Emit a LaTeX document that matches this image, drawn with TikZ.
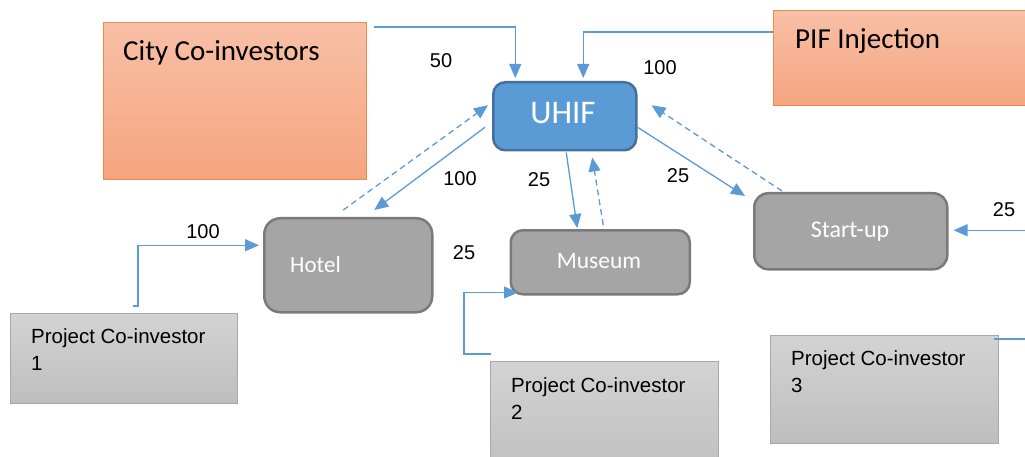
\documentclass[tikz,border=0pt]{standalone}
\usepackage{fontspec}
\setmainfont{Carlito}
\newfontfamily\arialf{Liberation Sans}
\usetikzlibrary{arrows.meta}
\definecolor{connc}{HTML}{5B9BD5}
\definecolor{uhiff}{HTML}{5B9BD5}
\definecolor{uhifd}{HTML}{41719C}
\definecolor{rgf}{HTML}{A5A5A5}
\definecolor{rgd}{HTML}{7A7A7A}
\definecolor{orT}{HTML}{F8C0A6}
\definecolor{orB}{HTML}{F5A47F}
\definecolor{orD}{HTML}{F08A4B}
\definecolor{gT}{HTML}{D3D3D3}
\definecolor{gB}{HTML}{BEBEBE}
\definecolor{gD}{HTML}{A8A8A8}
\begin{document}
\begin{tikzpicture}[x=1pt,y=-1pt,
  orangebox/.style={rectangle,anchor=north west,inner sep=0pt,draw=orD,line width=1.2pt,top color=orT,bottom color=orB},
  graybox/.style={rectangle,anchor=north west,inner sep=0pt,draw=gD,line width=1.2pt,top color=gT,bottom color=gB},
  roundbox/.style={rectangle,anchor=north west,inner sep=0pt,fill=rgf,draw=rgd,line width=2.5pt},
  bigtxt/.style={inner sep=0pt,font=\fontsize{29}{35}\selectfont},
  whitetxt/.style={inner sep=0pt,text=white},
  pctxt/.style={inner sep=0pt,anchor=north west,align=left,font=\arialf\fontsize{20.5}{27.5}\selectfont},
  num/.style={inner sep=0pt,font=\arialf\fontsize{20}{24}\selectfont},
  conn/.style={draw=connc,line width=1.3pt,-{Triangle[length=14pt,width=12pt]}},
  dconn/.style={conn,dash pattern=on 6pt off 4pt}
]
\useasboundingbox (0,0) rectangle (1025,457);

% boxes
\node[orangebox,minimum width=263pt,minimum height=157pt] (city) at (103,22) {};
\node[orangebox,minimum width=300pt,minimum height=95pt] (pif) at (773,10) {};
\node[graybox,minimum width=227pt,minimum height=90pt] (pc1) at (10,313) {};
\node[graybox,minimum width=228pt,minimum height=120pt] (pc2) at (490,361) {};
\node[graybox,minimum width=228pt,minimum height=108pt] (pc3) at (770,335) {};
\node[roundbox,fill=uhiff,draw=uhifd,rounded corners=12pt,minimum width=143pt,minimum height=68pt] (uhif) at (492,81) {};
\node[roundbox,rounded corners=16pt,minimum width=168pt,minimum height=94pt] (hotel) at (263,217) {};
\node[roundbox,rounded corners=12pt,minimum width=179pt,minimum height=64pt] (museum) at (509.5,229) {};
\node[roundbox,rounded corners=14pt,minimum width=193pt,minimum height=76pt] (startup) at (753,192) {};

% texts
\node[bigtxt,anchor=base west] (citytxt) at (123,61) {City Co-investors};
\node[bigtxt,anchor=base west] (piftxt) at (795,49) {PIF Injection};
\node[whitetxt,anchor=base,font=\fontsize{33}{38}\selectfont] (uhiftxt) at (563,124) {UHIF};
\node[whitetxt,anchor=base west,font=\fontsize{23}{28}\selectfont] (hoteltxt) at (290,272) {Hotel};
\node[whitetxt,anchor=base,font=\fontsize{23.5}{28}\selectfont] (museumtxt) at (599,268) {Museum};
\node[whitetxt,anchor=base,font=\fontsize{24}{28}\selectfont] (startuptxt) at (850,237) {Start-up};
\node[pctxt] (pc1txt) at (31,328) {Project Co-investor\\1};
\node[pctxt] (pc2txt) at (511,377) {Project Co-investor\\2};
\node[pctxt] (pc3txt) at (791,350) {Project Co-investor\\3};

% numbers
\node[num] (n50) at (441,61) {50};
\node[num] (n100a) at (660,68) {100};
\node[num] (n100b) at (460,179) {100};
\node[num] (n25a) at (539,180) {25};
\node[num] (n25b) at (678,176) {25};
\node[num] (n25c) at (1004,210) {25};
\node[num] (n100c) at (203,232) {100};
\node[num] (n25d) at (464,253) {25};

% connectors
\draw[conn] ([shift={(7,5)}]city.north east) -| ([shift={(-49.5,-3)}]uhif.north);
\draw[conn] ([shift={(0,22)}]pif.north west) -| ([shift={(18.5,-3)}]uhif.north);
\draw[conn] ([shift={(-7,11)}]uhif.west) -- ([shift={(26,-7)}]hotel.north);
\draw[dconn] ([shift={(-5,-7)}]hotel.north) -- ([shift={(-4,-11)}]uhif.west);
\draw[conn] ([shift={(1.5,1)}]uhif.south) -- ([shift={(-23,-1)}]museum.north);
\draw[dconn] ([shift={(3,-4)}]museum.north) -- ([shift={(27.5,6)}]uhif.south);
\draw[conn] ([shift={(0,11)}]uhif.east) -- ([shift={(-8,4)}]startup.north west);
\draw[dconn] ([shift={(29,-1)}]startup.north west) -- ([shift={(14,-11)}]uhif.east);
\draw[conn] ([shift={(-5,4)}]pc3.north east) -- ++(42,0) |- ([shift={(5,-1)}]startup.east);
\draw[conn] ([shift={(123,-7)}]pc1.north west) -- ++(5,0) |- ([shift={(-4,-20)}]hotel.west);
\draw[conn] ([shift={(1,-7)}]pc2.north west) -- ++(-27,0) |- ([shift={(8.5,-3)}]museum.south west);
\end{tikzpicture}
\end{document}
